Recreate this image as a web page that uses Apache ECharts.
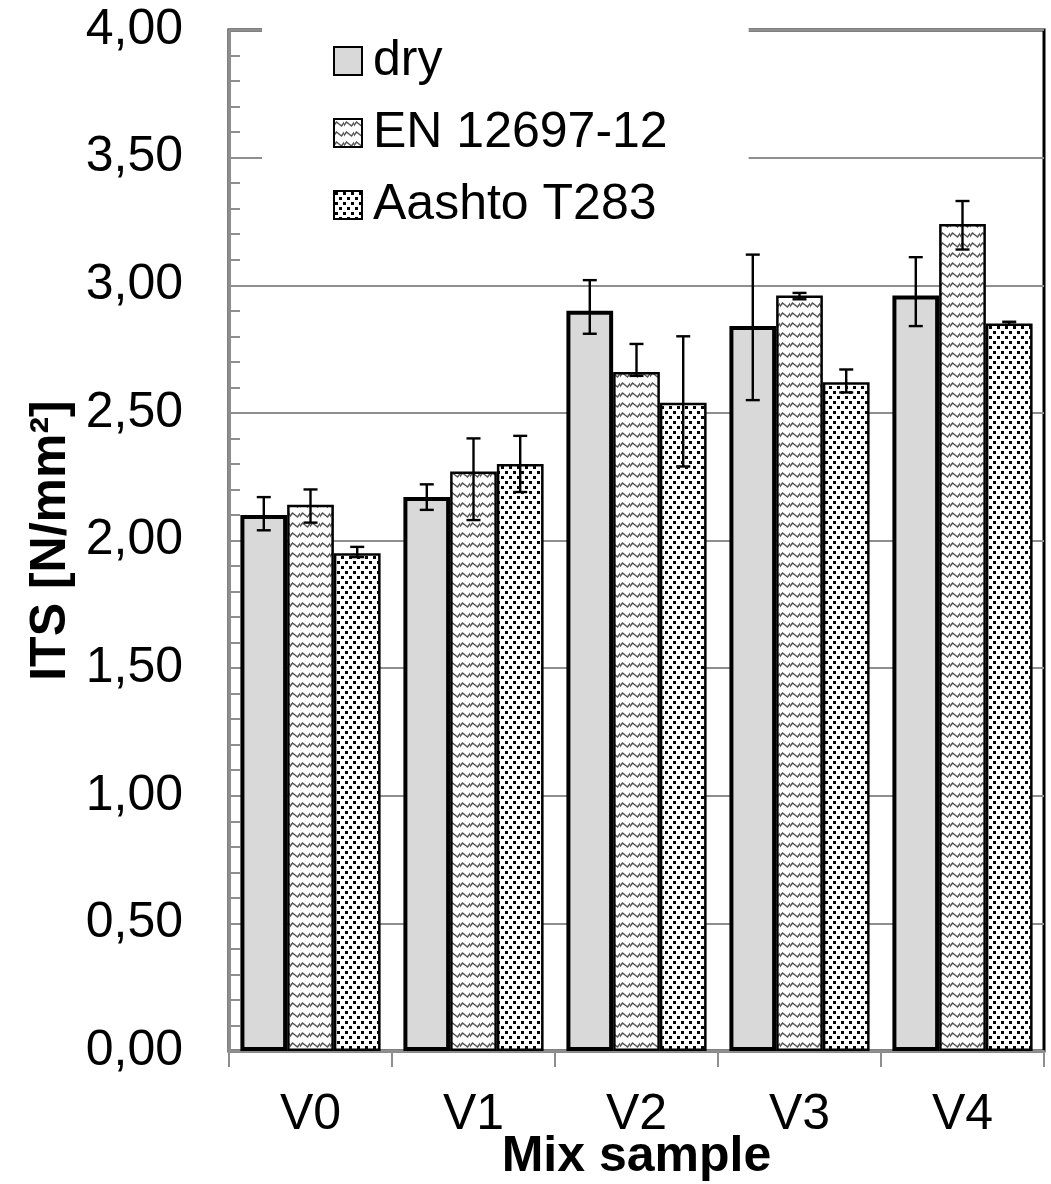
<!DOCTYPE html>
<html>
<head>
<meta charset="utf-8">
<script src="https://cdn.jsdelivr.net/npm/echarts@6/dist/echarts.min.js"></script>
<style>
html,body{margin:0;padding:0;background:#fff;overflow:hidden;}
#c{width:1051px;height:1184px;}
</style>
</head>
<body>
<div id="c"></div>
<script>
// ---- data ----
const categories = ['V0', 'V1', 'V2', 'V3', 'V4'];
const seriesNames = ['dry', 'EN 12697-12', 'Aashto T283'];
const dryValues = [2.10, 2.17, 2.90, 2.84, 2.96];
const enValues = [2.14, 2.27, 2.66, 2.96, 3.24];
const aashtoValues = [1.95, 2.30, 2.54, 2.62, 2.85];
const dryErrLow = [2.04, 2.12, 2.81, 2.55, 2.84];
const dryErrHigh = [2.17, 2.22, 3.02, 3.12, 3.11];
const enErrLow = [2.07, 2.08, 2.645, 2.945, 3.14];
const enErrHigh = [2.20, 2.40, 2.77, 2.97, 3.33];
const aashtoErrLow = [1.935, 2.19, 2.29, 2.58, 2.845];
const aashtoErrHigh = [1.975, 2.41, 2.80, 2.67, 2.857];
const yTicks = [0, 0.5, 1, 1.5, 2, 2.5, 3, 3.5, 4];

// ---- patterns ----
function zigzagPattern() {
  const c = document.createElement('canvas');
  c.width = 10; c.height = 10;
  const g = c.getContext('2d');
  g.fillStyle = '#fff'; g.fillRect(0, 0, 10, 10);
  g.strokeStyle = '#555'; g.lineWidth = 1.5;
  g.beginPath();
  g.moveTo(-0.5, 7); g.lineTo(2.5, 3); g.lineTo(7.5, 7); g.lineTo(10.5, 3);
  g.stroke();
  return c;
}
function dotPattern() {
  const c = document.createElement('canvas');
  c.width = 8; c.height = 10;
  const g = c.getContext('2d');
  g.fillStyle = '#fff'; g.fillRect(0, 0, 8, 10);
  g.fillStyle = '#000';
  g.fillRect(1, 1, 3, 3);
  g.fillRect(5, 6, 3, 3);
  return c;
}

const FONT = '"Liberation Sans", Arial, sans-serif';
const GAP_RATIO = 0.14;
const valuesList = [dryValues, enValues, aashtoValues];
const errLowList = [dryErrLow, enErrLow, aashtoErrLow];
const errHighList = [dryErrHigh, enErrHigh, aashtoErrHigh];
const barStyles = [
  { color: '#d9d9d9', borderColor: '#000', borderWidth: 4 },
  { color: { image: zigzagPattern(), repeat: 'repeat' }, borderColor: '#000', borderWidth: 2.5 },
  { color: { image: dotPattern(), repeat: 'repeat' }, borderColor: '#000', borderWidth: 2.5 }
];

function errorSeries(idx) {
  const data = categories.map((c, i) => [i, errLowList[idx][i], errHighList[idx][i]]);
  return {
    type: 'custom',
    name: seriesNames[idx] + ' err',
    z: 10,
    silent: true,
    data: data,
    encode: { x: 0, y: [1, 2] },
    renderItem: function (params, api) {
      const band = api.size([1, 0])[0];
      const group = band * (1 - GAP_RATIO);
      const bw = group / 3;
      const cx = api.coord([api.value(0), 0])[0] - group / 2 + bw * (idx + 0.5);
      const yl = api.coord([api.value(0), api.value(1)])[1];
      const yh = api.coord([api.value(0), api.value(2)])[1];
      const hw = 7;
      const st = { stroke: '#000', lineWidth: 2.4 };
      return {
        type: 'group',
        children: [
          { type: 'line', shape: { x1: cx, y1: yl, x2: cx, y2: yh }, style: st },
          { type: 'line', shape: { x1: cx - hw, y1: yl, x2: cx + hw, y2: yl }, style: st },
          { type: 'line', shape: { x1: cx - hw, y1: yh, x2: cx + hw, y2: yh }, style: st }
        ]
      };
    }
  };
}

const chart = echarts.init(document.getElementById('c'), null, { renderer: 'canvas', width: 1051, height: 1184 });
const series = [];
for (let i = 0; i < 3; i++) {
  series.push({
    type: 'bar',
    name: seriesNames[i],
    data: valuesList[i],
    barGap: '0%',
    barCategoryGap: (GAP_RATIO * 100) + '%',
    itemStyle: barStyles[i],
    emphasis: { disabled: true },
    z: 3
  });
}
for (let i = 0; i < 3; i++) series.push(errorSeries(i));

chart.setOption({
  animation: false,
  backgroundColor: '#fff',
  textStyle: { fontFamily: FONT },
  grid: {
    left: 229, width: 815, top: 30, height: 1021,
    outerBoundsMode: 'none',
    containLabel: false,
    show: true, borderColor: '#000', borderWidth: 3, backgroundColor: 'transparent'
  },
  legend: {
    data: seriesNames,
    orient: 'vertical',
    left: 262, top: 24,
    padding: [12, 81, 2, 71],
    backgroundColor: '#fff',
    itemWidth: 28, itemHeight: 28, itemGap: 22,
    icon: 'rect',
    textStyle: { fontSize: 50, color: '#000', fontFamily: FONT, lineHeight: 50, padding: [0, 0, 0, 6] },
    selectedMode: false,
    z: 20
  },
  xAxis: {
    type: 'category',
    data: categories,
    axisLine: { show: true, lineStyle: { color: '#8e8e8e', width: 2.5 } },
    axisTick: { show: true, alignWithLabel: false, length: 16, lineStyle: { color: '#8e8e8e', width: 2 } },
    axisLabel: { fontSize: 50, color: '#000', fontFamily: FONT, margin: 39 },
    name: 'Mix sample',
    nameLocation: 'middle',
    nameGap: 81,
    nameMoveOverlap: false,
    nameTextStyle: { fontSize: 50, fontWeight: 'bold', color: '#000', fontFamily: FONT }
  },
  yAxis: {
    type: 'value',
    min: yTicks[0], max: yTicks[yTicks.length - 1], interval: 0.5,
    axisLine: { show: true, lineStyle: { color: '#8e8e8e', width: 3 } },
    axisTick: { show: true, inside: true, length: 11, lineStyle: { color: '#8e8e8e', width: 2 } },
    minorTick: { show: true, splitNumber: 5, length: 11, lineStyle: { color: '#8e8e8e', width: 2 } },
    splitLine: { show: true, lineStyle: { color: '#8e8e8e', width: 2 } },
    axisLabel: {
      fontSize: 50, color: '#000', fontFamily: FONT, margin: 46,
      formatter: v => v.toFixed(2).replace('.', ',')
    },
    name: 'ITS [N/mm²]',
    nameLocation: 'middle',
    nameGap: 153,
    nameMoveOverlap: false,
    nameTextStyle: { fontSize: 50, fontWeight: 'bold', color: '#000', fontFamily: FONT }
  },
  series: series
});
</script>
</body>
</html>
